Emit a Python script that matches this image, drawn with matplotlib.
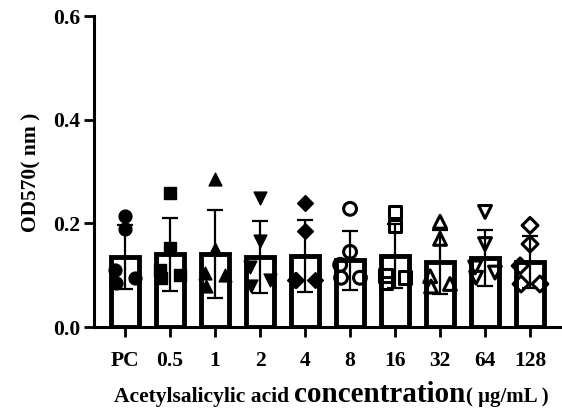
import matplotlib
matplotlib.use("Agg")
import matplotlib.pyplot as plt
from matplotlib.offsetbox import TextArea, HPacker, AnnotationBbox

categories = ["PC", "0.5", "1", "2", "4", "8", "16", "32", "64", "128"]
means = [0.135, 0.140, 0.141, 0.135, 0.137, 0.129, 0.137, 0.125, 0.133, 0.125]
sds = [0.061, 0.070, 0.085, 0.069, 0.070, 0.057, 0.062, 0.062, 0.054, 0.050]
points = [
    [0.215, 0.190, 0.110, 0.095, 0.085],
    [0.258, 0.152, 0.110, 0.100, 0.095],
    [0.285, 0.150, 0.105, 0.100, 0.080],
    [0.248, 0.165, 0.115, 0.090, 0.080],
    [0.240, 0.185, 0.090, 0.090, 0.090],
    [0.228, 0.145, 0.120, 0.095, 0.095],
    [0.222, 0.195, 0.100, 0.095, 0.085],
    [0.203, 0.170, 0.098, 0.083, 0.078],
    [0.222, 0.160, 0.115, 0.105, 0.095],
    [0.196, 0.160, 0.118, 0.083, 0.083],
]
markers = ["o", "s", "^", "v", "D", "o", "s", "^", "v", "D"]
filled = [True, True, True, True, True, False, False, False, False, False]
yticks = [0.0, 0.2, 0.4, 0.6]

fig = plt.figure(figsize=(5.62, 4.11), dpi=100)
ax = fig.add_axes([94 / 562, 1 - 327 / 411, (562 - 94) / 562, (327 - 16) / 411])

xs = list(range(len(categories)))
ax.bar(xs, means, width=0.62, facecolor="white", edgecolor="black",
       linewidth=3.5, zorder=1)

jitter = [0.0, 0.0, -0.22, 0.22, -0.2]
for i, vals in enumerate(points):
    px = [xs[i] + jitter[k] for k in range(len(vals))]
    size = 65 if markers[i] == "D" else 85
    if filled[i]:
        ax.scatter(px, vals, marker=markers[i], s=size, facecolor="black",
                   edgecolor="black", linewidth=1, zorder=2)
    else:
        ax.scatter(px, vals, marker=markers[i], s=size, facecolor="none",
                   edgecolor="black", linewidth=2.2, zorder=2)

ax.errorbar(xs, means, yerr=sds, fmt="none", ecolor="black", elinewidth=1.6,
            capsize=5.5, capthick=1.6, zorder=3)

ax.set_xlim(-0.69, 9.71)
ax.set_ylim(0, 0.6)
ax.set_yticks(yticks)
ax.set_yticklabels([f"{v:.1f}" for v in yticks])
ax.set_xticks(xs)
ax.set_xticklabels(categories)

for s in ["top", "right"]:
    ax.spines[s].set_visible(False)
for s in ["left", "bottom"]:
    ax.spines[s].set_linewidth(2.2)

ax.tick_params(axis="both", direction="out", length=7, width=2)
ax.tick_params(axis="x", pad=10)
ax.tick_params(axis="y", pad=3)
for lab in ax.get_xticklabels() + ax.get_yticklabels():
    lab.set_fontfamily("Liberation Serif")
    lab.set_fontweight("bold")
    lab.set_fontsize(15.5)

fig.text(31 / 562, 1 - 172 / 411, "OD570( nm )", rotation=90,
         family="Liberation Serif", weight="bold", size=15.5,
         ha="center", va="center")

t1 = TextArea("Acetylsalicylic acid ", textprops=dict(family="Liberation Serif",
              weight="bold", size=15.5))
t2 = TextArea("concentration", textprops=dict(family="Liberation Serif",
              weight="bold", size=21))
t3 = TextArea("( μg/mL )", textprops=dict(family="Liberation Serif",
              weight="bold", size=15))
pack = HPacker(children=[t1, t2, t3], align="baseline", pad=0, sep=0)
ab = AnnotationBbox(pack, (331 / 562, 1 - 394 / 411), xycoords="figure fraction",
                    frameon=False, box_alignment=(0.5, 0.5))
fig.add_artist(ab)

fig.savefig("out.png", dpi=100)
